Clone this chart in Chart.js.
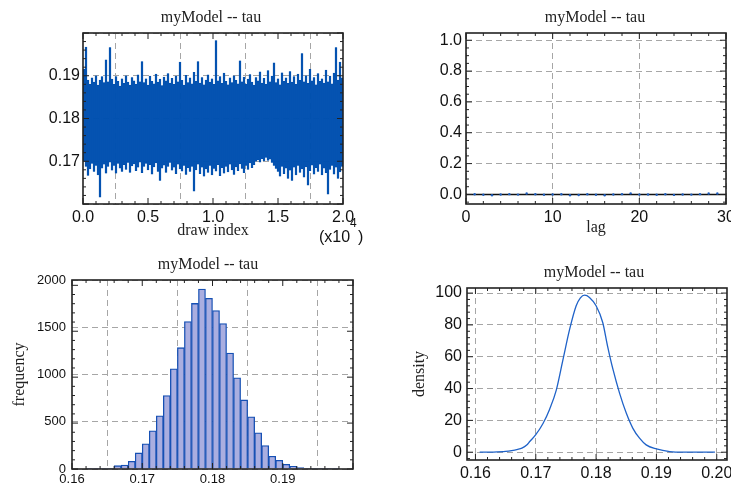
<!DOCTYPE html>
<html><head><meta charset="utf-8">
<script src="https://cdn.jsdelivr.net/npm/chart.js@4.4.0/dist/chart.umd.min.js"></script>
<style>
html,body{margin:0;padding:0;background:#fff;width:731px;height:487px;overflow:hidden}
canvas{position:absolute;left:0;top:0}
</style></head><body>
<canvas id="c1" width="731" height="487"></canvas>
<canvas id="c2" width="731" height="487"></canvas>
<canvas id="c3" width="731" height="487"></canvas>
<canvas id="c4" width="731" height="487"></canvas>
<script>
// ---------------- DATA ----------------
const panelTitle = 'myModel -- tau';

// Trace panel: total draws and per-segment upper / lower envelope
const traceDraws = 20000;
const traceHigh = [
0.1915,0.1967,0.1890,0.1880,0.1895,0.1885,0.1900,0.1878,0.1890,0.1898,
0.1884,0.1937,0.1886,0.1966,0.1892,0.1880,0.1898,0.1887,0.1876,0.1893,
0.1882,0.1900,0.1885,0.1878,0.1896,0.1888,0.1880,0.1902,0.1886,0.1933,
0.1884,0.1893,0.1878,0.1899,0.1887,0.1881,0.1904,0.1885,0.1892,0.1877,
0.1897,0.1888,0.1905,0.1883,0.1894,0.1880,0.1899,0.1886,0.1932,0.1889,
0.1878,0.1901,0.1884,0.1895,0.1881,0.1908,0.1887,0.1933,0.1883,0.1896,
0.1879,0.1890,0.1902,0.1885,0.1893,0.1880,0.1982,0.1888,0.1898,0.1882,
0.1906,0.1887,0.1879,0.1895,0.1884,0.1900,0.1889,0.1881,0.1935,0.1886,
0.1897,0.1880,0.1892,0.1903,0.1885,0.1878,0.1896,0.1888,0.1909,0.1883,
0.1894,0.1880,0.1912,0.1886,0.1899,0.1930,0.1884,0.1893,0.1879,0.1907,
0.1887,0.1895,0.1882,0.1910,0.1885,0.1898,0.1880,0.1904,0.1889,0.1952,
0.1886,0.1900,0.1882,0.1915,0.1888,0.1896,0.1879,0.1905,0.1887,0.1893,
0.1883,0.1913,0.1886,0.1899,0.1881,0.1906,0.1966,0.1890,0.1932,0.1895];
const traceLow = [
0.1700,0.1688,0.1667,0.1682,0.1695,0.1676,0.1690,0.1668,0.1616,0.1684,
0.1693,0.1672,0.1688,0.1698,0.1679,0.1690,0.1672,0.1695,0.1684,0.1676,
0.1692,0.1681,0.1697,0.1674,0.1689,0.1694,0.1678,0.1686,0.1698,0.1673,
0.1688,0.1695,0.1680,0.1692,0.1670,0.1687,0.1696,0.1676,0.1655,0.1684,
0.1691,0.1674,0.1688,0.1697,0.1679,0.1686,0.1671,0.1693,0.1682,0.1677,
0.1690,0.1669,0.1685,0.1676,0.1688,0.1630,0.1680,0.1693,0.1671,0.1686,
0.1665,0.1682,0.1674,0.1690,0.1668,0.1683,0.1677,0.1692,0.1666,0.1685,
0.1672,0.1688,0.1675,0.1693,0.1680,0.1669,0.1687,0.1678,0.1694,0.1683,
0.1673,0.1690,0.1681,0.1696,0.1685,0.1692,0.1700,0.1703,0.1698,0.1706,
0.1701,0.1709,0.1702,0.1705,0.1697,0.1690,0.1683,0.1676,0.1665,0.1688,
0.1671,0.1684,0.1660,0.1679,0.1655,0.1686,0.1668,0.1690,0.1674,0.1682,
0.1663,0.1687,0.1644,0.1678,0.1691,0.1670,0.1685,0.1676,0.1693,0.1668,
0.1684,0.1673,0.1623,0.1681,0.1690,0.1670,0.1686,0.1660,0.1675,0.1688];
const traceXTickLabels = ['0.0','0.5','1.0','1.5','2.0'];
const traceYTickLabels = ['','0.17','0.18','0.19',''];

// Autocorrelation panel
const acfLags   = [1,2,3,4,5,6,7,8,9,10,11,12,13,14,15,16,17,18,19,20,21,22,23,24,25,26,27,28,29];
const acfValues = [0.001,-0.002,-0.005,0.000,0.002,-0.001,0.006,0.001,-0.002,0.000,
                   0.001,-0.005,-0.004,0.001,-0.002,-0.005,0.000,0.002,0.007,-0.001,
                   0.000,-0.002,0.001,-0.003,0.000,-0.001,0.002,0.006,0.006];
const acfXTickLabels = ['0','10','20','30'];
const acfYTickLabels = ['0.0','0.2','0.4','0.6','0.8','1.0'];

// Histogram panel (bin starts, width 0.001)
const histBinStart = [0.160,0.161,0.162,0.163,0.164,0.165,0.166,0.167,0.168,0.169,
                      0.170,0.171,0.172,0.173,0.174,0.175,0.176,0.177,0.178,0.179,
                      0.180,0.181,0.182,0.183,0.184,0.185,0.186,0.187,0.188,0.189,
                      0.190,0.191,0.192,0.193,0.194,0.195,0.196,0.197,0.198,0.199];
const histBinWidth = 0.001;
const histCounts = [0,0,1,2,3,8,36,44,84,175,
                    274,416,580,800,1091,1321,1606,1803,1960,1858,
                    1726,1584,1263,993,752,569,394,256,139,95,
                    51,29,15,7,3,2,1,1,0,0];
const histXTickLabels = ['0.16','0.17','0.18','0.19',''];
const histYTickLabels = ['0','500','1000','1500','2000'];

// Density panel
const densityX = [0.1607,0.1630,0.1650,0.1660,0.1670,0.1677,0.1685,0.1690,0.1700,0.1712,
                  0.1723,0.1734,0.1745,0.1756,0.1767,0.1774,0.1781,0.1789,0.1800,0.1811,
                  0.1819,0.1828,0.1839,0.1850,0.1861,0.1872,0.1883,0.1900,0.1922,0.1944,0.1997];
const densityY = [0,0.1,0.5,1.0,1.8,2.6,4.5,6.7,11,18,
                  27,39,58,77,92,97,98.7,97.3,92,81.5,
                  66.7,52,37,24.6,15,8.8,4.6,2.1,0.4,0,0];
const densXTickLabels = ['0.16','0.17','0.18','0.19','0.20'];
const densYTickLabels = ['0','20','40','60','80','100'];

// ---------------- STYLE / HELPERS ----------------
const SANS = '"Liberation Sans", Arial, sans-serif';
const SERIF = '"Liberation Serif", "Times New Roman", serif';
Chart.defaults.font.family = SANS;
Chart.defaults.color = '#111';

function tickList(scale, minor, major) {
  const out = [];
  const k0 = Math.ceil(scale.min / minor - 1e-6), k1 = Math.floor(scale.max / minor + 1e-6);
  for (let k = k0; k <= k1; k++) {
    const v = k * minor, r = v / major;
    out.push({p: scale.getPixelForValue(v), major: Math.abs(r - Math.round(r)) < 1e-6});
  }
  return out;
}

const framePlugin = {
  id: 'frame',
  beforeDatasetsDraw(chart, args, o) {
    if (!o.zeroLine) return;
    const {ctx, chartArea: a, scales} = chart;
    const y = scales.y.getPixelForValue(0);
    ctx.save(); ctx.strokeStyle = '#111'; ctx.lineWidth = 1.6;
    ctx.beginPath(); ctx.moveTo(a.left, y); ctx.lineTo(a.right, y); ctx.stroke(); ctx.restore();
  },
  afterDatasetsDraw(chart, args, o) {
    const {ctx, chartArea: a, scales} = chart;
    ctx.save();
    ctx.strokeStyle = '#222'; ctx.lineWidth = 1;
    ctx.beginPath();
    for (const t of tickList(scales.x, o.xMinor, o.xMajor)) {
      const L = t.major ? 6 : 3;
      ctx.moveTo(t.p, a.bottom); ctx.lineTo(t.p, a.bottom - L);
      ctx.moveTo(t.p, a.top); ctx.lineTo(t.p, a.top + L);
    }
    for (const t of tickList(scales.y, o.yMinor, o.yMajor)) {
      const L = t.major ? 6 : 3;
      ctx.moveTo(a.left, t.p); ctx.lineTo(a.left + L, t.p);
      ctx.moveTo(a.right, t.p); ctx.lineTo(a.right - L, t.p);
    }
    ctx.stroke();
    ctx.lineWidth = 1.6; ctx.strokeStyle = '#222';
    ctx.strokeRect(a.left, a.top, a.right - a.left, a.bottom - a.top);
    ctx.fillStyle = '#222';
    ctx.font = '16px ' + SERIF;
    ctx.textAlign = 'center'; ctx.textBaseline = 'alphabetic';
    ctx.fillText(o.title, o.tx, o.ty);
    if (o.exponent) {
      ctx.textAlign = 'left';
      ctx.fillStyle = '#111';
      ctx.font = '16px ' + SANS;
      ctx.fillText('(x10', 319, 242);
      ctx.font = '12px ' + SANS;
      ctx.fillText('4', 350, 227);
      ctx.font = '16px ' + SANS;
      ctx.fillText(')', 358, 242);
    }
    ctx.restore();
  }
};

function xAxis(min, max, step, labels, h, fontSize, pad, title) {
  return {
    type: 'linear', position: 'bottom', min, max, offset: false,
    border: {display: false, dash: [6, 4]},
    grid: {color: '#a6a6a6', lineWidth: 1, drawTicks: false},
    ticks: {stepSize: step, includeBounds: false, autoSkip: false, maxRotation: 0,
            padding: pad, font: {size: fontSize}, color: '#111',
            callback: (v, i) => labels[i] !== undefined ? labels[i] : ''},
    title: title ? {display: true, text: title, font: {family: SERIF, size: 16}, color: '#222', padding: 0} : {display: false},
    afterFit(s) { s.height = h; s.paddingLeft = 0; s.paddingRight = 0; s.paddingTop = 0; s.paddingBottom = 0; }
  };
}
function yAxis(min, max, step, labels, w, fontSize, pad, title) {
  return {
    type: 'linear', position: 'left', min, max, offset: false,
    border: {display: false, dash: [6, 4]},
    grid: {color: '#a6a6a6', lineWidth: 1, drawTicks: false},
    ticks: {stepSize: step, includeBounds: false, autoSkip: false,
            padding: pad, font: {size: fontSize}, color: '#111',
            callback: (v, i) => labels[i] !== undefined ? labels[i] : ''},
    title: title ? {display: true, text: title, font: {family: SERIF, size: 16}, color: '#222', padding: 0} : {display: false},
    afterFit(s) { s.width = w; s.paddingLeft = 0; s.paddingRight = 0; s.paddingTop = 0; s.paddingBottom = 0; }
  };
}
const common = {
  responsive: false, animation: false, devicePixelRatio: 1, events: [],
};

// ---------------- PANEL 1: trace ----------------
const nSeg = traceHigh.length;
const traceBuilt = traceHigh.map((h, i) => ({x: (i + 0.5) * traceDraws / nSeg, y: [traceLow[i], h]}));
new Chart(document.getElementById('c1'), {
  type: 'bar',
  data: {datasets: [{data: traceBuilt, backgroundColor: '#0050b0', borderColor: '#0050b0',
    borderWidth: 0.4, borderSkipped: false, barPercentage: 1.0, categoryPercentage: 1.0, grouped: false}]},
  options: Object.assign({}, common, {
    layout: {padding: {left: 23, right: 388, top: 33, bottom: 247}},
    scales: {
      x: xAxis(0, traceDraws, 5000, traceXTickLabels, 36, 16, 4, 'draw index'),
      y: yAxis(0.16, 0.20, 0.01, traceYTickLabels, 60, 16, 3, null)
    },
    plugins: {legend: {display: false}, tooltip: {enabled: false},
      frame: {title: panelTitle, tx: 211, ty: 22, xMinor: 1000, xMajor: 5000, yMinor: 0.002, yMajor: 0.01, exponent: true}}
  }),
  plugins: [framePlugin]
});

// ---------------- PANEL 2: autocorrelation ----------------
new Chart(document.getElementById('c2'), {
  type: 'scatter',
  data: {datasets: [{data: acfLags.map((l, i) => ({x: l, y: acfValues[i]})),
    backgroundColor: '#1f5fc0', borderColor: '#1f5fc0', pointRadius: 1.2, borderWidth: 0}]},
  options: Object.assign({}, common, {
    layout: {padding: {left: 406, right: 5, top: 33, bottom: 250}},
    scales: {
      x: xAxis(0, 30, 10, acfXTickLabels, 33, 16, 4, 'lag'),
      y: yAxis(-0.062, 1.047, 0.2, acfYTickLabels, 60, 16, 4, null)
    },
    plugins: {legend: {display: false}, tooltip: {enabled: false},
      frame: {title: panelTitle, tx: 595, ty: 22, xMinor: 2, xMajor: 10, yMinor: 0.05, yMajor: 0.2, zeroLine: true}}
  }),
  plugins: [framePlugin]
});

// ---------------- PANEL 3: histogram ----------------
new Chart(document.getElementById('c3'), {
  type: 'bar',
  data: {datasets: [{data: histBinStart.map((b, i) => ({x: b + histBinWidth / 2, y: histCounts[i]})),
    backgroundColor: '#aaaee0', borderColor: '#1650b4', borderWidth: 1.3, borderSkipped: 'start',
    barPercentage: 1.0, categoryPercentage: 1.0, grouped: false}]},
  options: Object.assign({}, common, {
    layout: {padding: {left: 10, right: 378, top: 280, bottom: 0}},
    scales: {
      x: xAxis(0.16, 0.20, 0.01, histXTickLabels, 18, 13, 3, null),
      y: yAxis(0, 2058, 500, histYTickLabels, 62, 13, 6, 'frequency')
    },
    plugins: {legend: {display: false}, tooltip: {enabled: false},
      frame: {title: panelTitle, tx: 208, ty: 269, xMinor: 0.002, xMajor: 0.01, yMinor: 100, yMajor: 500}}
  }),
  plugins: [framePlugin]
});

// ---------------- PANEL 4: density ----------------
new Chart(document.getElementById('c4'), {
  type: 'line',
  data: {datasets: [{data: densityX.map((x, i) => ({x, y: densityY[i]})),
    borderColor: '#1f62c8', borderWidth: 1.3, pointRadius: 0, cubicInterpolationMode: 'monotone', fill: false}]},
  options: Object.assign({}, common, {
    layout: {padding: {left: 410.5, right: 4, top: 288, bottom: 7}},
    scales: {
      x: xAxis(0.1586, 0.2017, 0.01, densXTickLabels, 20, 16, 4, null),
      y: yAxis(-4.9, 103.2, 20, densYTickLabels, 56.5, 16, 5, 'density')
    },
    plugins: {legend: {display: false}, tooltip: {enabled: false},
      frame: {title: panelTitle, tx: 594, ty: 277, xMinor: 0.002, xMajor: 0.01, yMinor: 4, yMajor: 20}}
  }),
  plugins: [framePlugin]
});
</script>
</body></html>
